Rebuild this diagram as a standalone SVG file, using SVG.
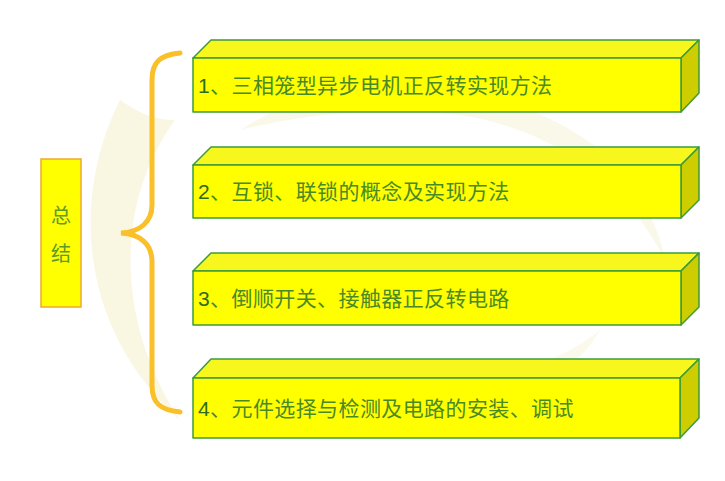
<svg xmlns="http://www.w3.org/2000/svg" width="725" height="481" viewBox="0 0 725 481">
<style>
.front{fill:#FFFF00;stroke:#3E9A3A;stroke-width:1.5;stroke-linejoin:round}
.top{fill:#F7F71E;stroke:#3E9A3A;stroke-width:1.5;stroke-linejoin:round}
.side{fill:#CDCD00;stroke:#3E9A3A;stroke-width:1.5;stroke-linejoin:round}
.lbl{font-family:"Liberation Sans","Noto Sans CJK SC",sans-serif;font-size:21px;letter-spacing:0.4px;fill:#4A8A26}
.num{fill:#2E6B1A}
.side-lbl{font-family:"Liberation Sans","Noto Sans CJK SC",sans-serif;font-size:20px;fill:#5E9A2A}
.wm{fill:#F9F6E2}
</style>
<rect width="725" height="481" fill="#FFFFFF"/>
<g id="watermark">
<path class="wm" d="M120,100 C70,200 80,330 180,420 C120,330 110,210 175,120 C150,120 135,110 120,100 Z"/>
<path class="wm" d="M240,130 C330,70 500,70 600,150 C640,185 660,230 665,260 C630,190 560,130 460,115 C380,105 300,115 240,130 Z" opacity="0.8"/>
<path class="wm" d="M320,380 C420,400 540,380 600,330 C560,400 450,430 330,415 Z" opacity="0.7"/>
</g>
<g id="connectors">
<path d="M180,53 C160,55 152,62 152,80 L152,205 C152,222 140,232 121,233 C140,234 152,244 152,262 L152,385 C152,403 160,410 180,412" fill="none" stroke="#F9C02A" stroke-width="5" stroke-linecap="round"/>
</g>
<g id="summary">
<rect x="41" y="159" width="40" height="148" fill="#FFFF00" stroke="#F0A830" stroke-width="1.5"/>
<text class="side-lbl" x="61" y="223" text-anchor="middle">总</text>
<text class="side-lbl" x="61" y="261" text-anchor="middle">结</text>
</g>
<g id="item1">
<polygon class="top" points="193,58 211,40 699,40 681,58"/>
<polygon class="side" points="681,58 699,40 699,93 681,112"/>
<rect class="front" x="193" y="58" width="488" height="54"/>
<text class="lbl" x="198" y="93"><tspan class="num">1</tspan>、三相笼型异步电机正反转实现方法</text>
</g>
<g id="item2">
<polygon class="top" points="193,165 211,147 699,147 681,165"/>
<polygon class="side" points="681,165 699,147 699,200 681,218"/>
<rect class="front" x="193" y="165" width="488" height="53"/>
<text class="lbl" x="198" y="199"><tspan class="num">2</tspan>、互锁、联锁的概念及实现方法</text>
</g>
<g id="item3">
<polygon class="top" points="193,271 211,253 699,253 681,271"/>
<polygon class="side" points="681,271 699,253 699,307 681,325"/>
<rect class="front" x="193" y="271" width="488" height="54"/>
<text class="lbl" x="198" y="306"><tspan class="num">3</tspan>、倒顺开关、接触器正反转电路</text>
</g>
<g id="item4">
<polygon class="top" points="193,378 211,359 699,359 680,378"/>
<polygon class="side" points="680,378 699,359 699,418 680,438"/>
<rect class="front" x="193" y="378" width="487" height="60"/>
<text class="lbl" x="198" y="416"><tspan class="num">4</tspan>、元件选择与检测及电路的安装、调试</text>
</g>
</svg>
